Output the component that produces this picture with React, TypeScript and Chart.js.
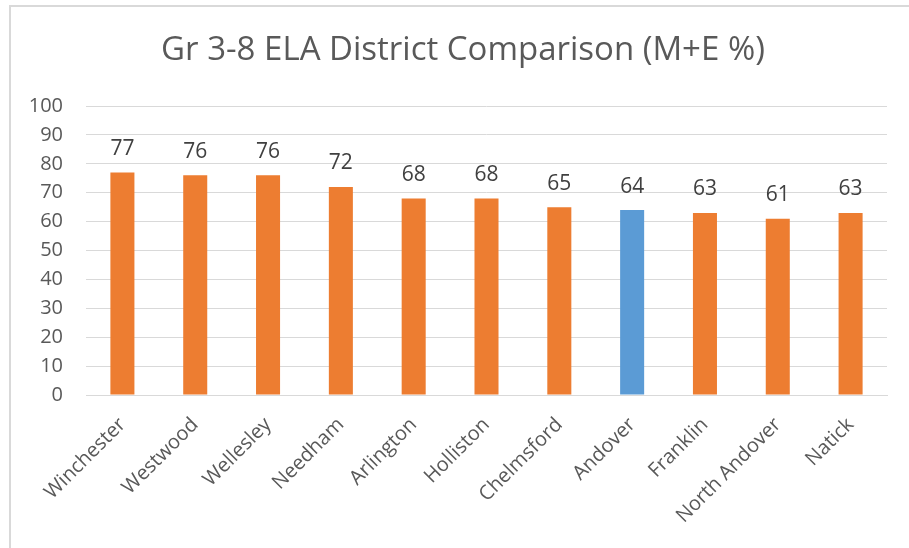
import React, { useEffect, useRef } from "react";
import { Chart, registerables } from "chart.js";

Chart.register(...registerables);

const districts = [
  "Winchester", "Westwood", "Wellesley", "Needham", "Arlington", "Holliston",
  "Chelmsford", "Andover", "Franklin", "North Andover", "Natick",
];
const meScores = [77, 76, 76, 72, 68, 68, 65, 64, 63, 61, 63];
const highlightDistrict = "Andover";
const yTicks = [0, 10, 20, 30, 40, 50, 60, 70, 80, 90, 100];
const chartTitle = "Gr 3-8 ELA District Comparison (M+E %)";

const ORANGE = "#ED7D31";
const BLUE = "#5B9BD5";
const FONT = "'Open Sans', 'Noto Sans', sans-serif";

const valueLabels = {
  id: "valueLabels",
  afterDatasetsDraw(chart: any) {
    const ctx = chart.ctx;
    const meta = chart.getDatasetMeta(0);
    const data = chart.data.datasets[0].data;
    ctx.save();
    ctx.font = `21px ${FONT}`;
    ctx.fillStyle = "#404040";
    ctx.textAlign = "center";
    ctx.textBaseline = "bottom";
    meta.data.forEach((bar: any, i: number) => {
      ctx.fillText(String(data[i]), bar.x, bar.y - 13);
    });
    ctx.restore();
  },
};

const titleDraw = {
  id: "titleDraw",
  afterDraw(chart: any) {
    const ctx = chart.ctx;
    ctx.save();
    ctx.font = `33px ${FONT}`;
    ctx.fillStyle = "#595959";
    ctx.textAlign = "center";
    ctx.textBaseline = "middle";
    ctx.fillText(chartTitle, 463, 51);
    ctx.restore();
  },
};

export default function App() {
  const ref = useRef<HTMLCanvasElement | null>(null);
  useEffect(() => {
    if (!ref.current) return;
    const chart = new Chart(ref.current, {
      type: "bar",
      data: {
        labels: districts,
        datasets: [
          {
            data: meScores,
            backgroundColor: districts.map((d) => (d === highlightDistrict ? BLUE : ORANGE)),
            barPercentage: 0.33,
            categoryPercentage: 1,
          },
        ],
      },
      options: {
        animation: false,
        responsive: false,
        maintainAspectRatio: false,
        layout: { padding: { left: 0, right: 22, top: 106, bottom: 0 } },
        plugins: {
          legend: { display: false },
          tooltip: { enabled: false },
          title: { display: false },
        },
        scales: {
          x: {
            grid: { display: false, drawTicks: false },
            border: { display: true, color: "#d9d9d9" },
            ticks: {
              color: "#595959",
              font: { family: FONT, size: 20 },
              minRotation: 45,
              maxRotation: 45,
              autoSkip: false,
              padding: 18,
            },
            afterFit(scale: any) {
              scale.height = 153;
            },
          },
          y: {
            min: 0,
            max: 100,
            afterBuildTicks(scale: any) {
              scale.ticks = yTicks.map((v) => ({ value: v }));
            },
            grid: { color: "#d9d9d9", drawTicks: false },
            border: { display: false },
            ticks: {
              color: "#595959",
              font: { family: FONT, size: 20 },
              padding: 23,
            },
            afterFit(scale: any) {
              scale.width = 86;
            },
          },
        },
      },
      plugins: [valueLabels, titleDraw],
    });
    return () => chart.destroy();
  }, []);

  return (
    <div style={{ position: "fixed", left: 0, top: 0, width: 909, height: 548, background: "#fff", overflow: "hidden" }}>
      <div
        style={{
          position: "absolute",
          left: 9,
          top: 5,
          width: 1000,
          height: 1000,
          border: "2px solid #d9d9d9",
          boxSizing: "border-box",
        }}
      />
      <canvas ref={ref} width={909} height={548} style={{ position: "absolute", left: 0, top: 0 }} />
    </div>
  );
}
